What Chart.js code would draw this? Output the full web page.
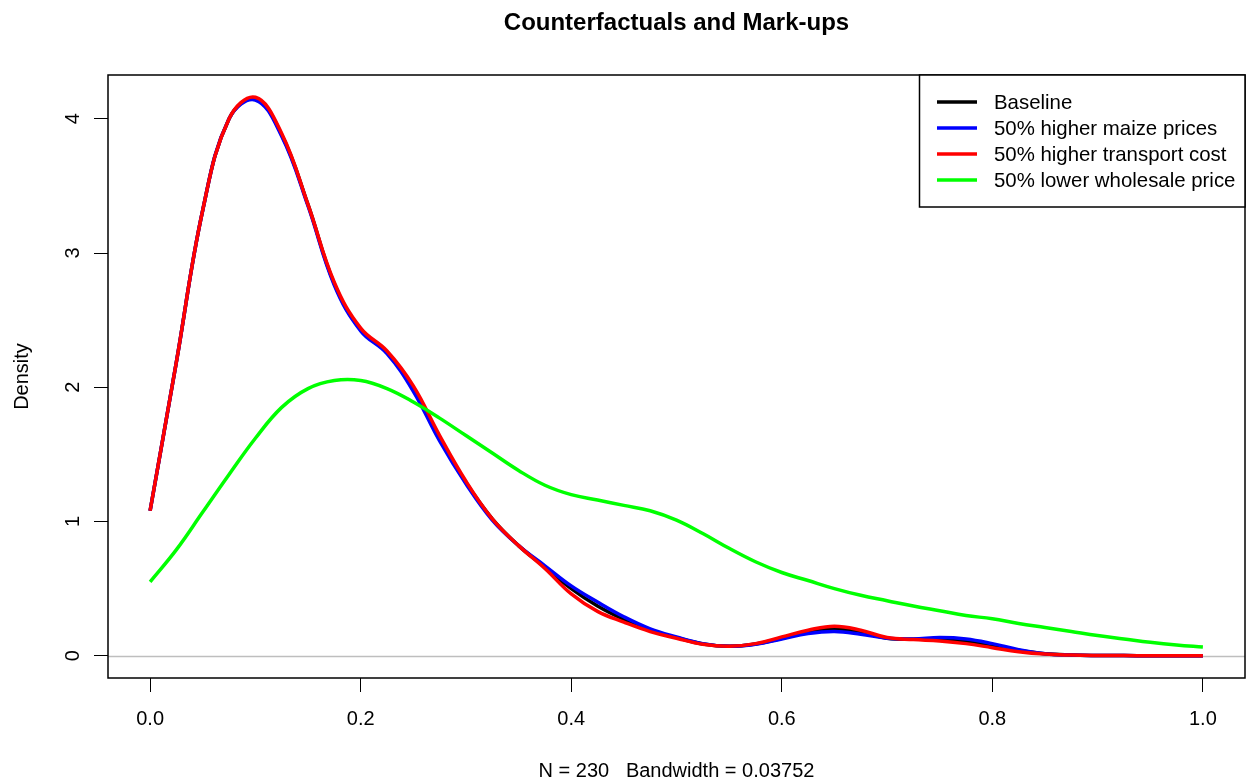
<!DOCTYPE html>
<html>
<head>
<meta charset="utf-8">
<script src="https://cdn.jsdelivr.net/npm/chart.js@4.4.1/dist/chart.umd.min.js"></script>
<style>
html,body{margin:0;padding:0;background:#fff;}
#wrap{width:1248px;height:783px;position:relative;}
</style>
</head>
<body>
<div id="wrap"><canvas id="c" width="1248" height="783"></canvas></div>
<script>
// ---- data ----
const xs = [0.000,0.025,0.050,0.075,0.100,0.125,0.150,0.175,0.200,0.225,
            0.250,0.275,0.300,0.325,0.350,0.375,0.400,0.425,0.450,0.475,
            0.500,0.525,0.550,0.575,0.600,0.625,0.650,0.675,0.700,0.725,
            0.750,0.775,0.800,0.825,0.850,0.875,0.900,0.925,0.950,0.975,1.000];

const baseline = [1.08,2.19,3.32,4.00,4.15,3.88,3.36,2.77,2.43,2.26,
                  1.99,1.62,1.29,1.02,0.82,0.66,0.50,0.37,0.27,0.19,
                  0.135,0.088,0.07,0.087,0.13,0.175,0.20,0.175,0.13,0.122,
                  0.125,0.11,0.078,0.04,0.014,0.005,0.002,0.001,0,0,0];

const maize = [1.08,2.19,3.32,4.00,4.14,3.87,3.35,2.76,2.42,2.25,
               1.97,1.60,1.28,1.01,0.82,0.67,0.52,0.40,0.29,0.20,
               0.14,0.09,0.07,0.085,0.125,0.165,0.18,0.16,0.13,0.125,
               0.135,0.125,0.09,0.045,0.015,0.005,0.002,0.001,0,0,0];

const transport = [1.08,2.19,3.32,4.00,4.16,3.89,3.36,2.78,2.44,2.27,
                   2.01,1.64,1.30,1.02,0.82,0.65,0.46,0.33,0.25,0.18,
                   0.13,0.085,0.07,0.09,0.14,0.19,0.22,0.19,0.135,0.12,
                   0.11,0.09,0.06,0.03,0.012,0.005,0.002,0.001,0,0,0];

const wholesale = [0.55,0.79,1.07,1.35,1.62,1.85,1.99,2.05,2.05,1.99,
                   1.89,1.77,1.64,1.51,1.38,1.27,1.20,1.16,1.12,1.08,
                   1.01,0.91,0.80,0.70,0.62,0.56,0.50,0.45,0.41,0.37,
                   0.335,0.30,0.275,0.24,0.21,0.18,0.15,0.125,0.10,0.08,0.065];

const seriesNames = ["Baseline","50% higher maize prices","50% higher transport cost","50% lower wholesale price"];
const seriesColors = ["#000000","#0000FF","#FF0000","#00FF00"];
const xTicks = [0.0,0.2,0.4,0.6,0.8,1.0];
const yTicks = [0,1,2,3,4];
const titleText = "Counterfactuals and Mark-ups";
const xTitle = "N = 230   Bandwidth = 0.03752";
const yTitle = "Density";

// ---- chart ----
const FONT = "'Liberation Sans', Arial, Helvetica, sans-serif";
Chart.defaults.font.family = FONT;
Chart.defaults.color = "#000";

const series = [baseline, maize, transport, wholesale];
const datasets = series.map((arr, i) => ({
  label: seriesNames[i],
  data: xs.map((x, j) => ({x: x, y: arr[j]})),
  borderColor: seriesColors[i],
  backgroundColor: seriesColors[i],
  borderWidth: 3.5,
  pointRadius: 0,
  pointHoverRadius: 0,
  fill: false,
  tension: 0.4,
  order: series.length - i
}));

const rPlot = {
  id: 'rplot',
  beforeDatasetsDraw(chart) {
    const {ctx, chartArea: a, scales: {y}} = chart;
    const py = Math.round(y.getPixelForValue(0)) + 0.5;
    ctx.save();
    ctx.strokeStyle = '#BEBEBE';
    ctx.lineWidth = 1.5;
    ctx.beginPath();
    ctx.moveTo(a.left, py);
    ctx.lineTo(a.right, py);
    ctx.stroke();
    ctx.restore();
  },
  afterDraw(chart) {
    const {ctx, chartArea: a, scales: {y}} = chart;
    ctx.save();
    // plot box
    ctx.strokeStyle = '#000';
    ctx.lineWidth = 1.5;
    ctx.strokeRect(a.left, a.top, a.right - a.left, a.bottom - a.top);
    // rotated y tick labels (R style)
    ctx.fillStyle = '#000';
    ctx.font = "20px " + FONT;
    ctx.textAlign = 'center';
    ctx.textBaseline = 'alphabetic';
    yTicks.forEach(v => {
      const py = y.getPixelForValue(v);
      ctx.save();
      ctx.translate(79, py);
      ctx.rotate(-Math.PI / 2);
      ctx.fillText(String(v), 0, 0);
      ctx.restore();
    });
    // legend
    const lx = 919.5, ly = 75, lw = a.right - 919.5, lh = 132;
    ctx.fillStyle = '#fff';
    ctx.fillRect(lx, ly, lw, lh);
    ctx.strokeStyle = '#000';
    ctx.lineWidth = 1.5;
    ctx.strokeRect(lx, ly, lw, lh);
    ctx.textAlign = 'left';
    ctx.font = "20.4px " + FONT;
    chart.data.datasets.forEach((ds, i) => {
      const rowY = 102 + i * 26;
      ctx.strokeStyle = ds.borderColor;
      ctx.lineWidth = 3.5;
      ctx.beginPath();
      ctx.moveTo(937, rowY);
      ctx.lineTo(977, rowY);
      ctx.stroke();
      ctx.fillStyle = '#000';
      ctx.fillText(ds.label, 994, rowY + 7.2);
    });
    ctx.restore();
  }
};

new Chart(document.getElementById('c'), {
  type: 'line',
  data: {datasets: datasets},
  plugins: [rPlot],
  options: {
    responsive: false,
    animation: false,
    devicePixelRatio: 1,
    events: [],
    layout: {autoPadding: false, padding: {left: 0, right: 3, top: 0, bottom: 0}},
    plugins: {
      legend: {display: false},
      tooltip: {enabled: false},
      title: {
        display: true,
        text: titleText,
        fullSize: false,
        font: {size: 24, weight: 'bold', family: FONT},
        color: '#000',
        padding: {top: 9, bottom: 37.2}
      }
    },
    scales: {
      x: {
        type: 'linear',
        min: -0.04,
        max: 1.04,
        afterBuildTicks: s => { s.ticks = xTicks.map(v => ({value: v})); },
        afterFit: s => { s.height = 105; },
        border: {display: false},
        grid: {drawOnChartArea: false, drawTicks: true, tickLength: 14, color: '#000', lineWidth: 1},
        ticks: {
          font: {size: 20, family: FONT},
          color: '#000',
          padding: 15,
          maxRotation: 0,
          autoSkip: false,
          callback: v => Number(v).toFixed(1)
        },
        title: {display: true, text: xTitle, font: {size: 20, family: FONT}, color: '#000', padding: {top: 0, bottom: 0}}
      },
      y: {
        type: 'linear',
        min: -0.166,
        max: 4.326,
        afterBuildTicks: s => { s.ticks = yTicks.map(v => ({value: v})); },
        afterFit: s => { s.width = 108; },
        border: {display: false},
        grid: {drawOnChartArea: false, drawTicks: true, tickLength: 14, color: '#000', lineWidth: 1},
        ticks: {display: false},
        title: {display: true, text: yTitle, font: {size: 20, family: FONT}, color: '#000', padding: {top: 10, bottom: 0}}
      }
    }
  }
});
</script>
</body>
</html>
